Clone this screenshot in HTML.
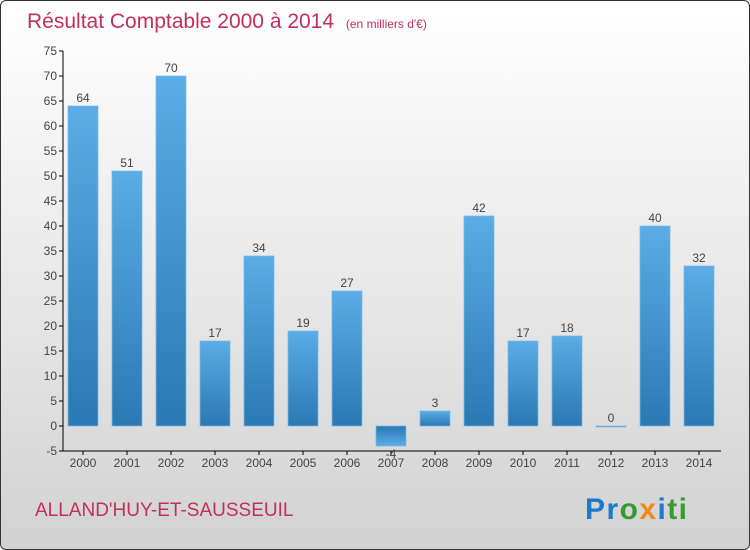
<!DOCTYPE html>
<html><head><meta charset="utf-8"><style>
body{margin:0;}
#c{width:748px;height:548px;border:1px solid #333;border-radius:6px;background:linear-gradient(#ffffff,#f2f2f2 30%,#d2d2d2);position:relative;overflow:hidden;font-family:"Liberation Sans",sans-serif;}
</style></head><body>
<div id="c">
<svg width="748" height="548" id="svg">
<defs>
<linearGradient id="gp" x1="0" y1="0" x2="0" y2="1"><stop offset="0" stop-color="#5aade6"/><stop offset="1" stop-color="#2a78b4"/></linearGradient>
<linearGradient id="gn" x1="0" y1="0" x2="0" y2="1"><stop offset="0" stop-color="#2a78b4"/><stop offset="1" stop-color="#5aade6"/></linearGradient>
</defs>
<text x="26" y="27" font-size="21" fill="#c0305a">Résultat Comptable 2000 à 2014 <tspan font-size="12" dx="6">(en milliers d'€)</tspan></text>
<text x="34" y="515" font-size="19" fill="#c0305a">ALLAND'HUY-ET-SAUSSEUIL</text>
<text x="584" y="518" font-size="30" font-weight="bold" textLength="102"><tspan fill="#1a7acc">Pr</tspan><tspan fill="#3a9a30">o</tspan><tspan fill="#f08a10">x</tspan><tspan fill="#1a7acc">i</tspan><tspan fill="#3a9a30">ti</tspan></text>
<g id="g"></g>
</svg>
</div>
<script>
const categories=["2000","2001","2002","2003","2004","2005","2006","2007","2008","2009","2010","2011","2012","2013","2014"];
const values=[64,51,70,17,34,19,27,-4,3,42,17,18,0,40,32];
const yTicks=[-5,0,5,10,15,20,25,30,35,40,45,50,55,60,65,70,75];
const NS="http://www.w3.org/2000/svg";
const g=document.getElementById('g');
const y=v=>425-(v*5);
const x=i=>82+i*44;
function mk(t,a,txt){const e=document.createElementNS(NS,t);for(const k in a)e.setAttribute(k,a[k]);if(txt!==undefined)e.textContent=txt;g.appendChild(e);return e;}
let e=mk('line',{x1:62,y1:y(75),x2:62,y2:y(-5),stroke:'#000'});


e=mk('line',{x1:62,y1:y(-5),x2:720,y2:y(-5),stroke:'#000'});


yTicks.forEach(t=>{
 mk('line',{x1:58,y1:y(t),x2:62,y2:y(t),stroke:'#000'});
 e=mk('text',{x:56,y:y(t)+4,'font-size':12,fill:'#444','text-anchor':'end'},t);
 
 
});
categories.forEach((c,i)=>{
 mk('line',{x1:x(i),y1:y(-5),x2:x(i),y2:y(-5)+4,stroke:'#000'});
 e=mk('text',{x:x(i),y:466,'font-size':12,fill:'#444','text-anchor':'middle'},c);
 
 
 const v=values[i];
 const top=Math.min(y(v),y(0)),h=Math.max(Math.abs(y(v)-y(0)),1);
 e=mk('rect',{x:x(i)-15,y:top,width:30,height:h,fill:v>=0?'url(#gp)':'url(#gn)',stroke:'#7ab8e8','stroke-width':0.7});
 
 
 e=mk('text',{x:x(i),y:v>=0?y(v)-4:y(v)+12,'font-size':12,fill:'#444','text-anchor':'middle'},v);
 
 
});
</script>
</body></html>
